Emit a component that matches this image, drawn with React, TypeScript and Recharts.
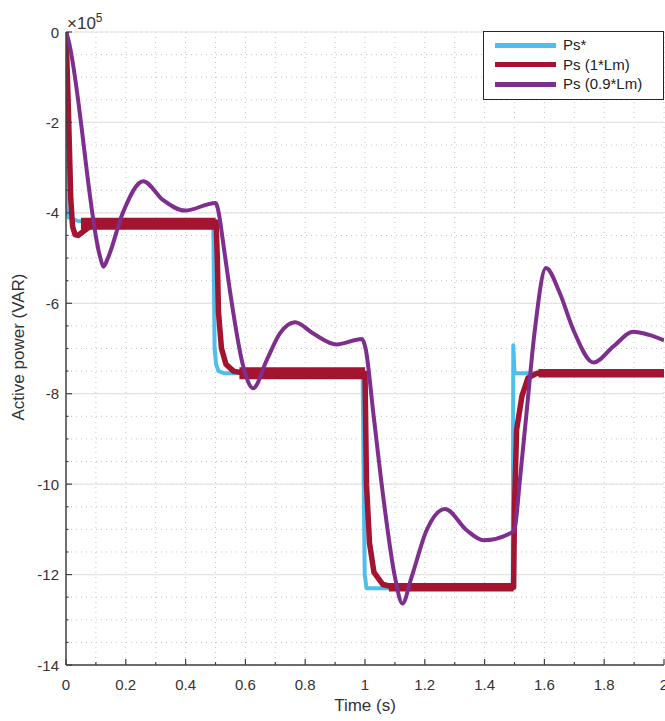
import { LineChart, Line, XAxis, YAxis, CartesianGrid } from "recharts"

// power in units of 1e5 VAR (axis shows x10^5), time in s
const refTime = [0, 0.002, 0.008, 0.04, 0.491, 0.493, 0.497, 0.502, 0.51, 0.53, 0.992, 0.995, 0.999, 1.005, 1.494, 1.496, 1.5, 2.0]
const refPower = [0, -3.9, -4.1, -4.18, -4.2, -4.4, -7.0, -7.35, -7.5, -7.55, -7.55, -9.5, -12.0, -12.3, -12.3, -6.93, -7.55, -7.55]

const lm1Time = [0, 0.007, 0.016, 0.022, 0.03, 0.04, 0.06, 0.09, 0.12, 0.502, 0.506, 0.51, 0.52, 0.535, 0.56, 0.6, 1.0, 1.005, 1.015, 1.03, 1.06, 1.1, 1.497, 1.5, 1.507, 1.525, 1.545, 1.575, 2.0]
const lm1Power = [0, -1.5, -3.7, -4.3, -4.48, -4.5, -4.4, -4.25, -4.2, -4.2, -5.0, -6.2, -7.0, -7.35, -7.5, -7.55, -7.55, -10.0, -11.3, -11.95, -12.22, -12.28, -12.28, -10.5, -8.8, -8.05, -7.65, -7.55, -7.55]

// noisy plateaus of the 1*Lm response (strong ripple, then weaker ripple)
const lm1RippleTime = [0.05, 0.5, 0.5, 0.58, 1.0]
const lm1RipplePower = [-4.24, -4.24, null, -7.55, -7.55]
const lm1CalmTime = [1.08, 1.497, 1.497, 1.58, 2.0]
const lm1CalmPower = [-12.28, -12.28, null, -7.55, -7.55]

const lm09Time = [0, 0.005, 0.114, 0.125, 0.14, 0.19, 0.258, 0.325, 0.398, 0.5, 0.509, 0.526, 0.548, 0.593, 0.626, 0.671, 0.716, 0.766, 0.827, 0.905, 0.99, 1.002, 1.028, 1.061, 1.1, 1.125, 1.156, 1.206, 1.268, 1.34, 1.396, 1.496, 1.502, 1.518, 1.54, 1.568, 1.605, 1.65, 1.697, 1.764, 1.83, 1.897, 1.95, 2.0]
const lm09Power = [0, -0.1, -4.97, -5.19, -5.0, -4.0, -3.3, -3.72, -3.95, -3.78, -3.94, -4.68, -5.71, -7.4, -7.88, -7.26, -6.66, -6.42, -6.67, -6.91, -6.79, -7.0, -8.44, -10.28, -12.05, -12.64, -12.05, -11.02, -10.55, -11.02, -11.24, -11.05, -10.94, -9.91, -8.44, -6.59, -5.22, -5.75, -6.59, -7.31, -6.96, -6.63, -6.7, -6.82]

const xTicks = [0, 0.1, 0.2, 0.3, 0.4, 0.5, 0.6, 0.7, 0.8, 0.9, 1, 1.1, 1.2, 1.3, 1.4, 1.5, 1.6, 1.7, 1.8, 1.9, 2]
const yTicks = [0, -0.5, -1, -1.5, -2, -2.5, -3, -3.5, -4, -4.5, -5, -5.5, -6, -6.5, -7, -7.5, -8, -8.5, -9, -9.5, -10, -10.5, -11, -11.5, -12, -12.5, -13, -13.5, -14]
const yMajor = [0, -2, -4, -6, -8, -10, -12, -14]

const series = [
  { name: "Ps*", color: "#4DBEEE" },
  { name: "Ps (1*Lm)", color: "#A2142F" },
  { name: "Ps (0.9*Lm)", color: "#7E2F8E" },
]

const toPoints = (t: number[], p: (number | null)[]) => t.map((time, i) => ({ time, power: p[i] }))

const refData = toPoints(refTime, refPower)
const lm1Data = toPoints(lm1Time, lm1Power)
const lm1Ripple = toPoints(lm1RippleTime, lm1RipplePower)
const lm1Calm = toPoints(lm1CalmTime, lm1CalmPower)
const lm09Data = toPoints(lm09Time, lm09Power)

const FONT = "'Liberation Sans', Arial, Helvetica, sans-serif"
const AXIS = "#404040"
const TEXT = "#333333"

function TimeTick({ x, y, payload }: any) {
  const v = payload.value as number
  const major = Math.round(v * 10) % 2 === 0
  return (
    <g>
      <line x1={x} x2={x} y1={y} y2={y - (major ? 6 : 3)} stroke={AXIS} strokeWidth={1.2} />
      {major && (
        <text x={x} y={y + 19} textAnchor="middle" dominantBaseline="central" fill={TEXT} fontSize={15} fontFamily={FONT}>
          {String(Number(v.toFixed(1)))}
        </text>
      )}
    </g>
  )
}

function PowerTick({ x, y, payload }: any) {
  const v = payload.value as number
  const major = Math.round(v * 2) % 4 === 0
  return (
    <g>
      <line x1={x} x2={x + (major ? 6 : 2.5)} y1={y} y2={y} stroke={AXIS} strokeWidth={1.2} />
      {major && (
        <text x={x - 7} y={y} textAnchor="end" dominantBaseline="central" fill={TEXT} fontSize={15} fontFamily={FONT}>
          {String(v)}
        </text>
      )}
    </g>
  )
}

export default function App() {
  return (
    <div style={{ position: "absolute", left: 0, top: 0, width: 665, height: 721, overflow: "hidden", background: "#fff", fontFamily: FONT }}>
      <LineChart width={680} height={721} margin={{ top: 32, right: 16, bottom: 26, left: 16 }}>
        {/* minor grid, dotted */}
        <CartesianGrid
          stroke="#c4c4c4"
          strokeDasharray="1 4"
          verticalValues={xTicks.slice(1)}
          horizontalValues={yTicks}
        />
        {/* major grid, solid */}
        <CartesianGrid stroke="#e3e3e3" strokeWidth={1.2} vertical={false} horizontalValues={yMajor} />
        <XAxis
          dataKey="time"
          type="number"
          domain={[0, 2]}
          ticks={xTicks}
          interval={0}
          height={30}
          tickSize={0}
          tickMargin={0}
          tickLine={false}
          axisLine={{ stroke: AXIS, strokeWidth: 1.5 }}
          tick={TimeTick}
          allowDataOverflow
        />
        <YAxis
          type="number"
          domain={[-14, 0]}
          ticks={yTicks}
          interval={0}
          width={50}
          tickSize={0}
          tickMargin={0}
          tickLine={false}
          axisLine={{ stroke: AXIS, strokeWidth: 1.5 }}
          tick={PowerTick}
          allowDataOverflow
        />
        <Line data={refData} dataKey="power" type="linear" stroke={series[0].color} strokeWidth={4} dot={false} isAnimationActive={false} strokeLinejoin="round" />
        <Line data={lm1Data} dataKey="power" type="linear" stroke={series[1].color} strokeWidth={5.5} dot={false} isAnimationActive={false} strokeLinejoin="round" />
        <Line data={lm1Ripple} dataKey="power" type="linear" stroke={series[1].color} strokeWidth={12} dot={false} isAnimationActive={false} connectNulls={false} />
        <Line data={lm1Calm} dataKey="power" type="linear" stroke={series[1].color} strokeWidth={8.5} dot={false} isAnimationActive={false} connectNulls={false} />
        <Line data={lm09Data} dataKey="power" type="monotone" stroke={series[2].color} strokeWidth={4} dot={false} isAnimationActive={false} strokeLinejoin="round" />
      </LineChart>

      {/* exponent */}
      <div style={{ position: "absolute", left: 67, top: 14, fontSize: 17, color: TEXT, lineHeight: "20px", whiteSpace: "nowrap" }}>
        ×10<span style={{ fontSize: 12, position: "relative", top: -7 }}>5</span>
      </div>

      {/* axis titles */}
      <div style={{ position: "absolute", left: 365, top: 706, transform: "translate(-50%, -50%)", fontSize: 17, color: TEXT, whiteSpace: "nowrap" }}>
        Time (s)
      </div>
      <div style={{ position: "absolute", left: 19, top: 347, transform: "translate(-50%, -50%) rotate(-90deg)", fontSize: 17, color: TEXT, whiteSpace: "nowrap" }}>
        Active power (VAR)
      </div>

      {/* legend */}
      <div style={{ position: "absolute", left: 483, top: 31, width: 179, height: 67, border: "1px solid #262626", background: "#fff" }}>
        {series.map((s, i) => (
          <div key={s.name} style={{ position: "absolute", left: 0, top: 13 + i * 19.5, height: 0 }}>
            <div style={{ position: "absolute", left: 11, top: -2.5, width: 61, height: 5, background: s.color }} />
            <div style={{ position: "absolute", left: 79, top: -10, fontSize: 15, lineHeight: "20px", color: "#222", whiteSpace: "nowrap" }}>
              {s.name}
            </div>
          </div>
        ))}
      </div>
    </div>
  )
}
